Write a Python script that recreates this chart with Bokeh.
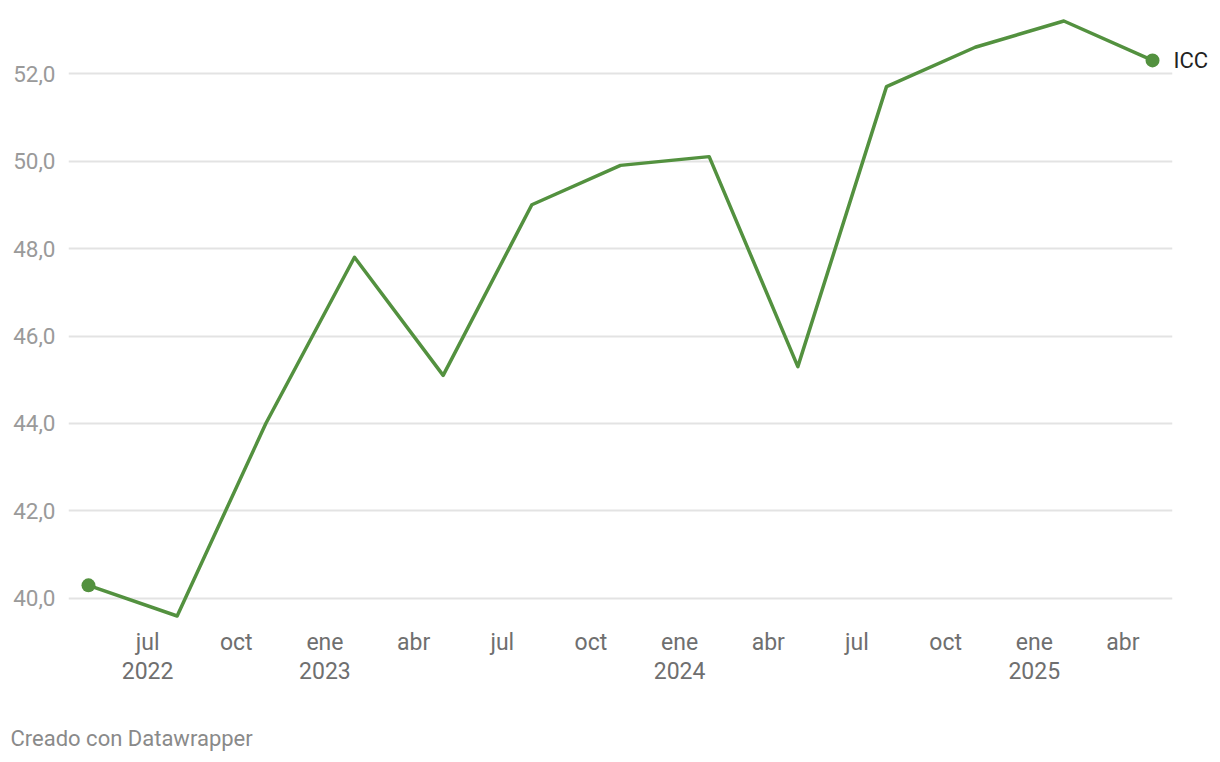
from bokeh.plotting import figure
from bokeh.models import FixedTicker, LinearAxis, Range1d, Title
from bokeh.embed import file_html
from bokeh.resources import INLINE

# ---- data ----
dates = ["2022-05", "2022-08", "2022-11", "2023-02", "2023-05", "2023-08", "2023-11",
         "2024-02", "2024-05", "2024-08", "2024-11", "2025-02", "2025-05"]
icc = [40.3, 39.6, 44.0, 47.8, 45.1, 49.0, 49.9, 50.1, 45.3, 51.7, 52.6, 53.2, 52.3]
series_name = "ICC"
x_tick_dates = ["2022-07", "2022-10", "2023-01", "2023-04", "2023-07", "2023-10",
                "2024-01", "2024-04", "2024-07", "2024-10", "2025-01", "2025-04"]
x_tick_labels = ["jul\n2022", "oct", "ene\n2023", "abr", "jul", "oct",
                 "ene\n2024", "abr", "jul", "oct", "ene\n2025", "abr"]
y_ticks = [40, 42, 44, 46, 48, 50, 52]
y_tick_labels = ["40,0", "42,0", "44,0", "46,0", "48,0", "50,0", "52,0"]
credit = "Creado con Datawrapper"


def month_index(s):
    y, m = s.split("-")
    return (int(y) - 2022) * 12 + int(m) - 1


xs = [month_index(d) for d in dates]
xt = [month_index(d) for d in x_tick_dates]

GREEN = "#53913f"
FONT = "Roboto"

p = figure(frame_width=1104, frame_height=605, output_backend="svg", toolbar_location=None,
           x_range=Range1d(3.324, 40.676), y_range=Range1d(39.497, 53.326),
           min_border_left=68, min_border_right=43, min_border_top=15,
           min_border_bottom=0)
p.outline_line_color = None
p.background_fill_color = "white"
p.border_fill_color = "white"

# series label as a right-hand axis with a single tick at the last value
label_axis = LinearAxis(ticker=FixedTicker(ticks=[icc[-1]]),
                        major_label_overrides={icc[-1]: series_name})
p.add_layout(label_axis, "right")

# grid
p.xgrid.grid_line_color = None
p.ygrid.grid_line_color = "#e3e3e3"
p.ygrid.grid_line_width = 2
p.yaxis[0].ticker = FixedTicker(ticks=y_ticks)
p.yaxis[0].major_label_overrides = {t: l for t, l in zip(y_ticks, y_tick_labels)}
p.xaxis.ticker = FixedTicker(ticks=xt)
p.xaxis.major_label_overrides = {t: l for t, l in zip(xt, x_tick_labels)}

for ax in (p.xaxis[0], p.yaxis[0], label_axis):
    ax.axis_line_color = None
    ax.major_tick_line_color = None
    ax.minor_tick_line_color = None
    ax.major_tick_out = 0
    ax.major_tick_in = 0
    ax.minor_tick_out = 0
    ax.minor_tick_in = 0
    ax.major_label_text_font = FONT

p.yaxis[0].major_label_text_font_size = "22.5px"
p.yaxis[0].major_label_text_color = "#9a9a9a"
p.yaxis[0].major_label_standoff = 13
label_axis.major_label_text_font_size = "22px"
label_axis.major_label_text_color = "#222222"
label_axis.major_label_standoff = 1
p.xaxis.major_label_text_font_size = "23px"
p.xaxis.major_label_text_color = "#6f6f6f"
p.xaxis.major_label_standoff = 8
p.xaxis.major_label_text_line_height = 1.08

# line
p.line(xs, icc, line_color=GREEN, line_width=3.5, line_join="round")
p.scatter([xs[0], xs[-1]], [icc[0], icc[-1]], size=14, fill_color=GREEN, line_color=None)

# spacer between the axis and the credit line
p.add_layout(Title(text=" ", standoff=31, text_font_size="1px"), "below")
p.add_layout(Title(text=credit, align="left", offset=-58, standoff=4,
                   text_font=FONT, text_font_size="22px", text_font_style="normal",
                   text_color="#8a8a8a"), "below")

open("out.html", "w").write(file_html(p, INLINE))
